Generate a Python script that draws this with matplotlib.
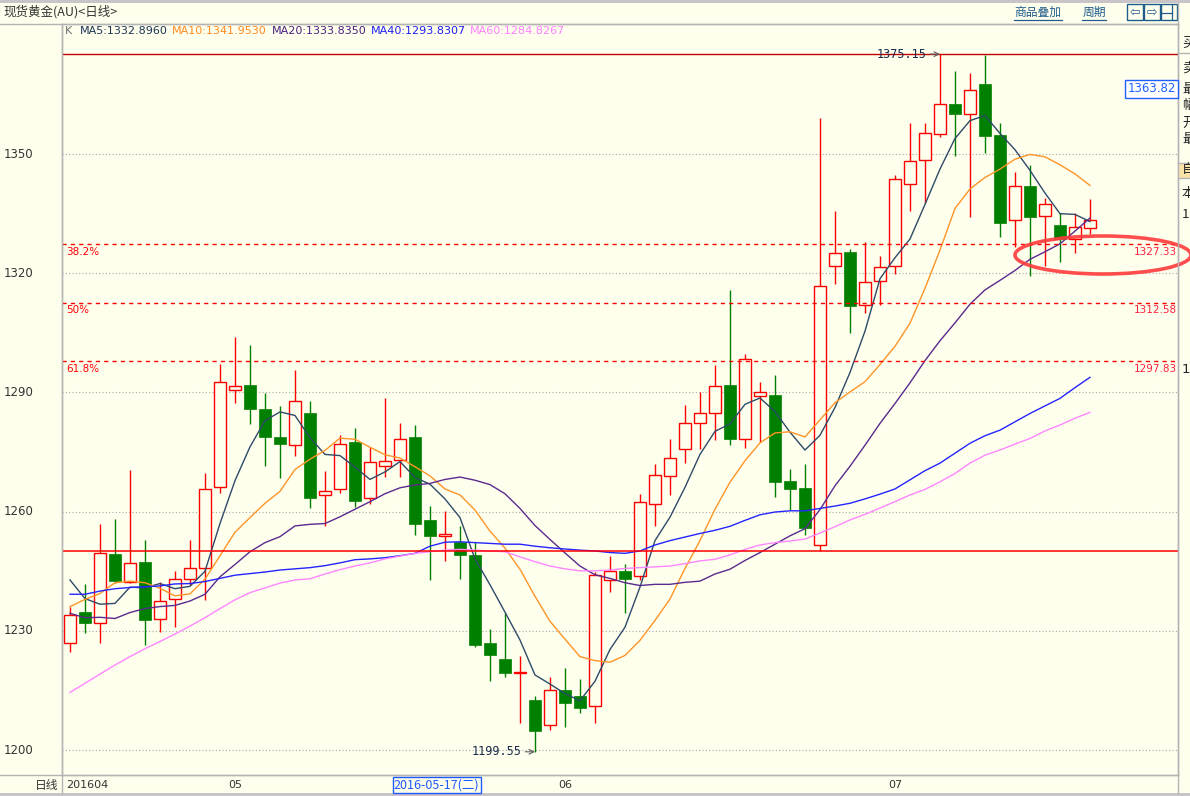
import numpy as np
import matplotlib.pyplot as plt
import matplotlib.transforms as mtransforms
from matplotlib.patches import Ellipse, Rectangle
from matplotlib.lines import Line2D

# ---- data (daily spot gold, 69 bars) ----
opens = [1226.9, 1234.7, 1232.0, 1249.3, 1242.3, 1247.3, 1232.9, 1237.9, 1243.1, 1245.7,
         1266.1, 1290.6, 1291.9, 1285.8, 1278.7, 1276.7, 1284.7, 1264.1, 1265.8, 1277.5,
         1263.4, 1271.6, 1273.1, 1278.7, 1257.9, 1253.9, 1252.4, 1249.1, 1226.9, 1222.9,
         1219.5, 1212.6, 1206.2, 1215.1, 1213.6, 1211.1, 1242.7, 1245.1, 1243.9, 1261.8,
         1268.9, 1275.7, 1282.2, 1284.7, 1291.9, 1278.2, 1289.1, 1289.4, 1267.7, 1265.9,
         1251.5, 1321.9, 1325.3, 1312.0, 1318.0, 1321.9, 1342.4, 1348.4, 1355.0, 1362.6,
         1360.2, 1367.7, 1354.8, 1333.4, 1342.0, 1334.3, 1332.1, 1328.5, 1331.5]
highs = [1236.0, 1241.8, 1256.9, 1258.1, 1270.5, 1252.9, 1242.4, 1245.0, 1252.9, 1269.6,
         1297.2, 1304.0, 1301.9, 1289.9, 1286.6, 1295.6, 1287.8, 1270.2, 1279.3, 1281.0,
         1276.3, 1288.7, 1282.2, 1281.7, 1261.4, 1260.2, 1256.4, 1252.4, 1230.4, 1234.6,
         1223.7, 1213.6, 1218.3, 1220.6, 1217.9, 1244.8, 1248.8, 1246.8, 1264.4, 1272.0,
         1278.3, 1286.8, 1290.1, 1296.9, 1315.8, 1299.7, 1292.5, 1294.4, 1270.7, 1272.0,
         1359.0, 1335.7, 1326.2, 1327.9, 1324.3, 1344.7, 1357.7, 1357.7, 1375.15, 1370.9,
         1370.5, 1375.0, 1357.9, 1345.4, 1347.2, 1339.0, 1335.1, 1335.1, 1338.6]
lows = [1224.7, 1229.5, 1226.9, 1242.0, 1242.0, 1226.4, 1229.8, 1231.0, 1241.5, 1237.8,
        1264.7, 1287.4, 1282.0, 1271.5, 1268.5, 1274.0, 1261.0, 1256.5, 1264.6, 1261.2,
        1261.9, 1268.6, 1268.6, 1254.0, 1242.8, 1247.6, 1243.0, 1226.0, 1217.4, 1218.3,
        1206.7, 1199.55, 1205.0, 1205.7, 1209.4, 1206.7, 1239.8, 1234.6, 1242.9, 1256.4,
        1264.2, 1272.3, 1275.8, 1278.0, 1276.8, 1276.1, 1277.5, 1263.7, 1260.4, 1254.1,
        1250.2, 1317.3, 1304.9, 1310.0, 1312.1, 1319.9, 1335.7, 1337.6, 1354.2, 1349.6,
        1334.2, 1350.2, 1329.2, 1326.5, 1319.3, 1321.9, 1322.9, 1325.2, 1330.0]
closes = [1233.9, 1232.0, 1249.5, 1242.5, 1247.0, 1232.8, 1237.6, 1243.1, 1245.7, 1265.8,
          1292.6, 1291.6, 1285.8, 1278.7, 1276.9, 1287.9, 1263.5, 1265.1, 1276.9, 1262.7,
          1272.4, 1272.7, 1278.4, 1256.9, 1253.9, 1254.3, 1249.1, 1226.5, 1224.0, 1219.5,
          1219.6, 1204.9, 1215.1, 1211.9, 1210.5, 1244.0, 1245.1, 1243.1, 1262.3, 1269.1,
          1273.6, 1282.2, 1284.7, 1291.5, 1278.4, 1298.3, 1290.1, 1267.5, 1265.8, 1255.9,
          1316.7, 1325.0, 1311.8, 1317.7, 1321.6, 1343.6, 1348.2, 1355.2, 1362.5, 1360.2,
          1366.0, 1354.6, 1332.7, 1342.0, 1334.2, 1337.3, 1328.6, 1331.7, 1333.3]

ma5 = [1242.8, 1238.1, 1236.7, 1236.9, 1241.0, 1240.8, 1241.9, 1240.6, 1241.2, 1245.0,
       1257.0, 1267.8, 1276.3, 1282.9, 1285.1, 1284.2, 1278.6, 1274.4, 1274.1, 1271.2,
       1268.1, 1270.0, 1272.6, 1268.6, 1266.9, 1263.2, 1258.5, 1248.1, 1241.6, 1234.7,
       1227.7, 1218.9, 1216.6, 1214.2, 1212.4, 1217.3, 1225.3, 1230.9, 1241.0, 1252.7,
       1258.6, 1266.1, 1274.4, 1280.2, 1282.1, 1287.0, 1288.6, 1285.2, 1280.0, 1275.5,
       1279.2, 1286.2, 1295.0, 1305.4, 1318.6, 1323.9, 1328.6, 1337.3, 1346.2, 1353.9,
       1358.4, 1359.7, 1355.2, 1351.1, 1345.9, 1340.2, 1335.0, 1334.8, 1333.0]
ma10 = [1236.1, 1237.9, 1239.4, 1242.1, 1242.5, 1242.1, 1240.7, 1238.8, 1239.3, 1243.0,
        1248.9, 1254.8, 1258.5, 1262.1, 1265.1, 1270.6, 1273.2, 1275.4, 1278.5, 1278.2,
        1276.2, 1274.3, 1273.5, 1271.3, 1269.0, 1265.7, 1264.2, 1260.4, 1255.1, 1250.8,
        1245.5, 1238.7, 1232.4, 1227.9, 1223.5, 1222.5, 1222.1, 1223.8, 1227.6, 1232.6,
        1238.0, 1245.7, 1252.7, 1260.6, 1267.4, 1272.8, 1277.3, 1279.8, 1280.1, 1278.8,
        1283.1, 1287.4, 1290.1, 1292.7, 1297.0, 1301.6, 1307.4, 1316.2, 1325.8, 1336.3,
        1341.2, 1344.1, 1346.2, 1348.7, 1349.9, 1349.3, 1347.3, 1345.0, 1342.1]
ma20 = [1234.4, 1233.3, 1233.4, 1233.1, 1234.6, 1235.6, 1236.1, 1236.4, 1237.5, 1239.2,
        1243.6, 1246.7, 1249.9, 1252.2, 1253.7, 1256.4, 1256.8, 1257.0, 1258.7, 1260.6,
        1262.5, 1264.5, 1266.0, 1266.7, 1267.1, 1268.1, 1268.7, 1267.9, 1266.8, 1264.5,
        1260.8, 1256.5, 1253.0, 1249.6, 1246.3, 1244.1, 1243.2, 1242.1, 1241.4, 1241.7,
        1241.7, 1242.2, 1242.5, 1244.3, 1245.5, 1247.7, 1249.7, 1251.8, 1253.9, 1255.7,
        1260.5, 1266.5, 1271.4, 1276.7, 1282.2, 1287.2, 1292.4, 1298.0, 1303.0, 1307.5,
        1312.2, 1315.8, 1318.2, 1320.7, 1323.5, 1325.4, 1327.4, 1330.6, 1333.9]
ma40 = [1239.2, 1239.2, 1240.0, 1240.6, 1240.9, 1241.1, 1241.3, 1241.8, 1241.9, 1242.4,
        1243.2, 1244.0, 1244.4, 1244.8, 1245.3, 1245.6, 1245.9, 1246.4, 1247.1, 1247.9,
        1248.1, 1248.4, 1248.9, 1249.5, 1251.3, 1252.3, 1252.4, 1252.2, 1252.0, 1251.8,
        1251.8, 1251.3, 1250.9, 1250.6, 1250.3, 1250.1, 1249.7, 1249.5, 1250.1, 1251.6,
        1252.7, 1253.6, 1254.5, 1255.3, 1256.3, 1257.8, 1259.2, 1259.9, 1260.2, 1260.2,
        1260.8, 1261.4, 1262.1, 1263.2, 1264.4, 1265.7, 1268.0, 1270.3, 1272.2, 1274.7,
        1277.2, 1279.1, 1280.5, 1282.6, 1284.7, 1286.6, 1288.5, 1291.2, 1293.8]
ma60 = [1214.5, 1216.8, 1219.1, 1221.4, 1223.5, 1225.5, 1227.3, 1229.2, 1231.2, 1233.3,
        1235.6, 1237.8, 1239.6, 1240.8, 1242.0, 1242.8, 1243.1, 1244.3, 1245.4, 1246.3,
        1247.1, 1248.1, 1248.8, 1249.5, 1249.9, 1250.3, 1250.5, 1250.3, 1250.1, 1249.9,
        1248.6, 1247.4, 1246.3, 1245.6, 1245.1, 1245.1, 1245.3, 1245.7, 1245.9, 1246.1,
        1246.3, 1246.9, 1247.6, 1248.0, 1249.1, 1250.5, 1251.6, 1252.2, 1252.6, 1253.1,
        1254.6, 1256.2, 1257.9, 1259.3, 1260.9, 1262.5, 1264.2, 1265.6, 1267.5, 1269.6,
        1272.2, 1274.2, 1275.5, 1277.0, 1278.4, 1280.3, 1281.8, 1283.5, 1285.0]

ma_names = ['MA5', 'MA10', 'MA20', 'MA40', 'MA60']
ma_last = ['1332.8960', '1341.9530', '1333.8350', '1293.8307', '1284.8267']

grid_levels = [1200, 1230, 1260, 1290, 1320, 1350]
fib_pcts = ['38.2%', '50%', '61.8%']
fib_values = [1327.33, 1312.58, 1297.83]
fib_low = 1250.0

month_pos = [0, 11, 33, 55]
month_labels = ['201604', '05', '06', '07']
cursor_pos = 22
cursor_label = '2016-05-17(二)'
price_tag = '1363.82'
side_chars = ['买', '卖', '最', '幅', '开', '最', '自', '本', '1']

# ---- style ----
BG = '#FFFFEE'
UP = '#FF0000'
DOWN = '#008000'
GRAYLINE = '#B4B4B4'
MA_LINE = ['#2E4A68', '#FF9426', '#5A2A8E', '#2424FF', '#FF86FF']
MA_TEXT = ['#1C3456', '#FF8A1E', '#4A2080', '#2020F0', '#FF80FF']
CJK = ['Noto Sans CJK SC', 'DejaVu Sans']
LINK = '#1F5C8A'

W, H = 1190, 796
fig = plt.figure(figsize=(W / 100, H / 100), dpi=100, facecolor=BG)


def fx(px):
    return px / W


def fy(py):
    return 1 - py / H


ax = fig.add_axes([fx(62), fy(775), fx(1178) - fx(62), fy(24) - fy(775)])
ax.set_facecolor(BG)
ax.set_xlim(-0.533, 73.87)
ax.set_ylim(1193.71, 1382.73)
ax.set_xticks([])
ax.set_yticks([])
for s in ax.spines.values():
    s.set_color(GRAYLINE)
    s.set_linewidth(1)

x = np.arange(len(closes))
o = np.array(opens)
h = np.array(highs)
l = np.array(lows)
c = np.array(closes)
up = c >= o

# grid
for v in grid_levels:
    ax.axhline(v, color='#A8A8A8', lw=0.8, ls=(0, (1, 2)), zorder=1)

# candles
ax.vlines(x[up], c[up], h[up], color=UP, lw=1, zorder=2)
ax.vlines(x[up], l[up], o[up], color=UP, lw=1, zorder=2)
ax.vlines(x[~up], l[~up], h[~up], color=DOWN, lw=1, zorder=2)
ax.bar(x[up], np.maximum(c[up] - o[up], 0.1), bottom=o[up], width=0.8,
       facecolor=BG, edgecolor=UP, lw=1, zorder=3)
ax.bar(x[~up], o[~up] - c[~up], bottom=c[~up], width=0.8,
       facecolor=DOWN, edgecolor=DOWN, lw=0.5, zorder=3)

# moving averages
for ma, col in zip([ma5, ma10, ma20, ma40, ma60], MA_LINE):
    ax.plot(x, ma, color=col, lw=1.0, zorder=4)

# highest line, fib levels
hi_i = int(np.argmax(h))
lo_i = int(np.argmin(l))
ax.axhline(h[hi_i], color='#C00000', lw=1, zorder=5)
ax.axhline(fib_low, color=UP, lw=1.1, zorder=5)
for pct, val in zip(fib_pcts, fib_values):
    ax.axhline(val, color=UP, lw=1, ls=(0, (3, 3)), zorder=5)
    ax.annotate(pct, (0, val), xycoords=('axes fraction', 'data'), xytext=(3, -2),
                textcoords='offset points', ha='left', va='top', color=UP, fontsize=7.5)
    ax.annotate(f'{val:.2f}', (1, val), xycoords=('axes fraction', 'data'), xytext=(-1, -2),
                textcoords='offset points', ha='right', va='top', color='#FF2040', fontsize=7.5)

# extreme labels
arrow = dict(arrowstyle='->', color='#606060', lw=0.8, shrinkA=1, shrinkB=0)
ax.annotate(f'{h[hi_i]:.2f}', (hi_i, h[hi_i]), xytext=(-10, 0), textcoords='offset points',
            ha='right', va='center', fontsize=8.5, family='DejaVu Sans Mono',
            color='#1A2A4A', arrowprops=arrow, zorder=6)
ax.annotate(f'{l[lo_i]:.2f}', (lo_i, l[lo_i]), xytext=(-10, 0), textcoords='offset points',
            ha='right', va='center', fontsize=8.5, family='DejaVu Sans Mono',
            color='#1A2A4A', arrowprops=arrow, zorder=6)

# y labels on the left
ytr = mtransforms.blended_transform_factory(fig.transFigure, ax.transData)
for v in grid_levels:
    fig.text(fx(4), v, str(v), transform=ytr, ha='left', va='center',
             fontsize=8.5, color='#333333')

# bottom date row
xtr = mtransforms.blended_transform_factory(ax.transData, fig.transFigure)
for pos, lab in zip(month_pos, month_labels):
    if pos == 0:
        fig.text(pos - 0.25, fy(785), lab, transform=xtr, ha='left', va='center',
                 fontsize=8, color='#333333')
    else:
        fig.text(pos, fy(785), lab, transform=xtr, ha='center', va='center',
                 fontsize=8, color='#333333')
fig.text(cursor_pos - 0.4, fy(785), cursor_label, transform=xtr, ha='left', va='center',
         fontsize=9, color='#1E5AFF', family=CJK,
         bbox=dict(boxstyle='square,pad=0.1', facecolor=BG, edgecolor='#1E5AFF', lw=1))
fig.text(fx(58), fy(785), '日线', ha='right', va='center', fontsize=8.5,
         color='#333333', family=CJK)


# frame lines outside the axes
def hline(y, x0, x1, col=GRAYLINE, lw=1):
    fig.add_artist(Line2D([fx(x0), fx(x1)], [fy(y), fy(y)], color=col, lw=lw))


def vline(xp, y0, y1, col=GRAYLINE, lw=1):
    fig.add_artist(Line2D([fx(xp), fx(xp)], [fy(y0), fy(y1)], color=col, lw=lw))


fig.add_artist(Rectangle((0, fy(3)), 1, fy(0) - fy(3), transform=fig.transFigure,
                         facecolor='#C8C4C8', edgecolor='none'))
fig.add_artist(Rectangle((0, 0), 1, fy(793), transform=fig.transFigure,
                         facecolor='#C8C4C8', edgecolor='none'))
hline(24, 0, 1178)
hline(775, 0, 1178)
vline(62, 24, 793)
vline(1178, 3, 793)

# header
fig.text(fx(3), fy(12), '现货黄金(AU)<日线>', ha='left', va='center', fontsize=9,
         color='#333333', family=CJK)
for lab, x0, x1 in [('商品叠加', 1014, 1062), ('周期', 1082, 1106)]:
    fig.text(fx((x0 + x1) / 2), fy(12), lab, ha='center', va='center', fontsize=8.5,
             color=LINK, family=CJK)
    hline(20, x0, x1, col=LINK, lw=0.9)
for i, sym in enumerate(['⇦', '⇨', '']):
    bx = 1127 + i * 17
    fig.add_artist(Rectangle((fx(bx), fy(20)), fx(16), fy(4) - fy(20), transform=fig.transFigure,
                             facecolor=BG, edgecolor=LINK, lw=1))
    if sym:
        fig.text(fx(bx + 8), fy(12), sym, ha='center', va='center', fontsize=9, color=LINK)
vline(1172, 5, 19, col=LINK, lw=0.9)
hline(13, 1162, 1172, col=LINK, lw=0.9)

# legend row
fig.text(fx(65), fy(31), 'K', ha='left', va='center', fontsize=8, color='#707070')
for name, val, col, px in zip(ma_names, ma_last, MA_TEXT, [80, 172, 272, 371, 470]):
    fig.text(fx(px), fy(31), f'{name}:{val}', ha='left', va='center', fontsize=8, color=col)

# price tag and side panel (the panel is cut by the window edge, as in the source)
fig.text(fx(1176), fy(89), price_tag, ha='right', va='center', fontsize=8.5, color='#2060FF',
         bbox=dict(boxstyle='square,pad=0.2', facecolor='white', edgecolor='#2060FF', lw=1))
fig.add_artist(Rectangle((fx(1179), fy(178)), fx(11), fy(163) - fy(178),
                         transform=fig.transFigure, facecolor='#F8E2A8', edgecolor='none'))
for ch, yp in zip(side_chars, [43, 68, 89, 106, 123, 139, 170, 193, 214]):
    fig.text(fx(1182), fy(yp), ch, ha='left', va='center', fontsize=9.5,
             color='#222222', family=CJK)
fig.text(fx(1182), fy(370), '1', ha='left', va='center', fontsize=9.5, color='#222222')
hline(53, 1178, 1190)
hline(163, 1178, 1190)
hline(178, 1178, 1190)

# hand-drawn highlight ellipse
fig.add_artist(Ellipse((fx(1103), fy(255)), fx(176), fy(236) - fy(274),
                       transform=fig.transFigure, facecolor='none',
                       edgecolor='#FF3B3B', lw=2.6, alpha=0.9))

fig.savefig('out.png', dpi=100, facecolor=BG)
